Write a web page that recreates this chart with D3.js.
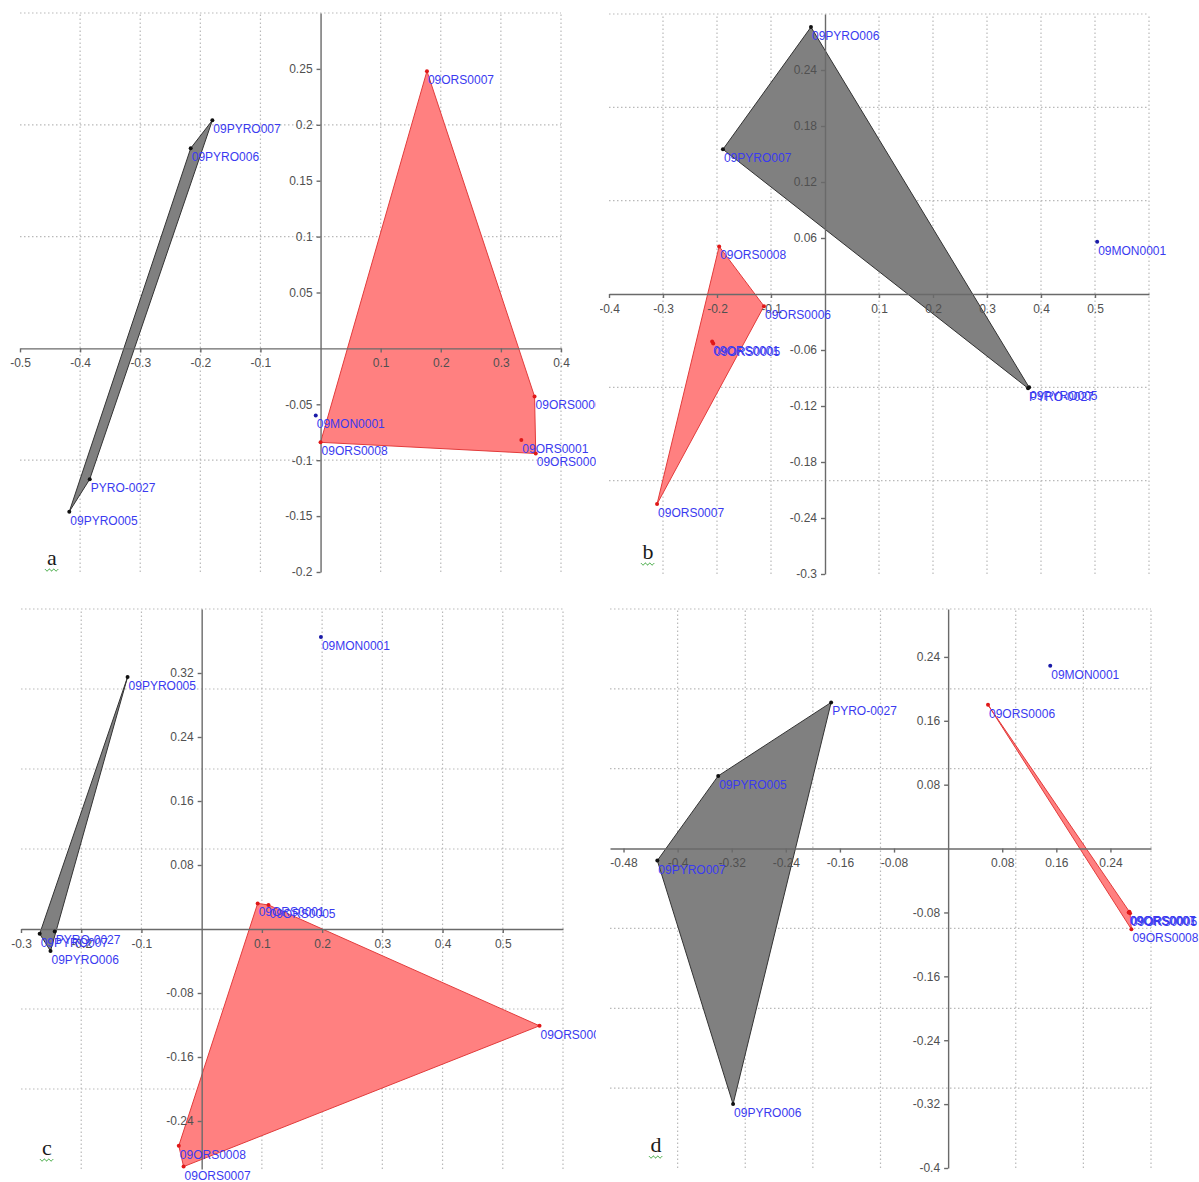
<!DOCTYPE html>
<html>
<head>
<meta charset="utf-8">
<script src="https://cdn.jsdelivr.net/npm/d3@7/dist/d3.min.js"></script>
<style>
  html, body { margin: 0; padding: 0; background: #fff; }
  svg { display: block; }
  .tick text { font-family: "Liberation Sans", Arial, sans-serif; font-size: 12px; fill: #505050; }
  .domain, .tick line { stroke: #6a6a6a; stroke-width: 1.4; }
</style>
</head>
<body>
<svg id="chart" width="1199" height="1182"></svg>
<script>
// Sample names shared by all four ordinations
const samples = ["09PYRO005", "09PYRO006", "09PYRO007", "PYRO-0027",
                 "09ORS0001", "09ORS0005", "09ORS0006", "09ORS0007", "09ORS0008",
                 "09MON0001"];

// Coordinates (axis 1, axis 2) for each panel, in the order of `samples`
const xA = [-0.418, -0.216, -0.180, -0.384, 0.334, 0.358, 0.356, 0.177, 0.000, -0.008];
const yA = [-0.146, 0.179, 0.204, -0.117, -0.082, -0.094, -0.043, 0.248, -0.084, -0.060];

const xB = [0.378, -0.026, -0.189, 0.376, -0.209, -0.207, -0.113, -0.311, -0.196, 0.504];
const yB = [-0.100, 0.286, 0.155, -0.101, -0.051, -0.053, -0.013, -0.225, 0.051, 0.056];

const xC = [-0.123, -0.251, -0.269, -0.244, 0.093, 0.111, 0.561, -0.030, -0.038, 0.198];
const yC = [0.315, -0.0275, -0.006, -0.003, 0.032, 0.030, -0.121, -0.297, -0.271, 0.365];

const xD = [-0.340, -0.318, -0.430, -0.173, 0.268, 0.269, 0.059, 0.267, 0.271, 0.151];
const yD = [0.091, -0.320, -0.015, 0.183, -0.079, -0.081, 0.180, -0.080, -0.101, 0.229];

// Axis extents
const xDomA = [-0.5, 0.4], yDomA = [-0.2, 0.3];
const xDomB = [-0.4, 0.6], yDomB = [-0.3, 0.3];
const xDomC = [-0.3, 0.6], yDomC = [-0.3, 0.4];
const xDomD = [-0.5, 0.3], yDomD = [-0.4, 0.3];

// Tick labels
const xTicksA = [-0.5, -0.4, -0.3, -0.2, -0.1, 0.1, 0.2, 0.3, 0.4];
const yTicksA = [-0.2, -0.15, -0.1, -0.05, 0.05, 0.1, 0.15, 0.2, 0.25];
const xTicksB = [-0.4, -0.3, -0.2, -0.1, 0.1, 0.2, 0.3, 0.4, 0.5];
const yTicksB = [-0.3, -0.24, -0.18, -0.12, -0.06, 0.06, 0.12, 0.18, 0.24];
const xTicksC = [-0.3, -0.2, -0.1, 0.1, 0.2, 0.3, 0.4, 0.5];
const yTicksC = [-0.24, -0.16, -0.08, 0.08, 0.16, 0.24, 0.32];
const xTicksD = [-0.48, -0.4, -0.32, -0.24, -0.16, -0.08, 0.08, 0.16, 0.24];
const yTicksD = [-0.4, -0.32, -0.24, -0.16, -0.08, 0.08, 0.16, 0.24];

// Dotted grid positions
const xGridA = [-0.4, -0.3, -0.2, -0.1, 0.1, 0.2, 0.3, 0.4];
const yGridA = [-0.1, 0.1, 0.2, 0.3];
const xGridB = [-0.3, -0.2, -0.1, 0.1, 0.2, 0.3, 0.4, 0.5, 0.6];
const yGridB = [-0.2, -0.1, 0.1, 0.2, 0.3];
const xGridC = [-0.2, -0.1, 0.1, 0.2, 0.3, 0.4, 0.5, 0.6];
const yGridC = [-0.2, -0.1, 0.1, 0.2, 0.3, 0.4];
const xGridD = [-0.4, -0.3, -0.2, -0.1, 0.1, 0.2, 0.3];
const yGridD = [-0.3, -0.2, -0.1, 0.1, 0.2, 0.3];

const panelLetters = ["a", "b", "c", "d"];

// Screen layout of each panel
const layout = [
  { xr: [20, 561],  yr: [572, 13],   clip: [0, 0, 596, 590],     letter: [52, 565] },
  { xr: [609, 1149], yr: [574, 14],  clip: [600, 0, 599, 590],   letter: [648, 559] },
  { xr: [21, 563],  yr: [1169, 609], clip: [0, 592, 596, 590],   letter: [47, 1155] },
  { xr: [610, 1151], yr: [1168, 609], clip: [600, 592, 599, 590], letter: [656, 1152] }
];

const panels = [
  { x: xA, y: yA, xd: xDomA, yd: yDomA, xt: xTicksA, yt: yTicksA, xg: xGridA, yg: yGridA },
  { x: xB, y: yB, xd: xDomB, yd: yDomB, xt: xTicksB, yt: yTicksB, xg: xGridB, yg: yGridB },
  { x: xC, y: yC, xd: xDomC, yd: yDomC, xt: xTicksC, yt: yTicksC, xg: xGridC, yg: yGridC },
  { x: xD, y: yD, xd: xDomD, yd: yDomD, xt: xTicksD, yt: yTicksD, xg: xGridD, yg: yGridD }
];

const groupOf = name => name.includes("PYRO") ? "pyro" : name.includes("ORS") ? "ors" : "mon";
const hullStyle = {
  pyro: { fill: "#808080", stroke: "#333333" },
  ors:  { fill: "#ff8080", stroke: "#e23b3b" }
};
const dotColor = { pyro: "#111111", ors: "#e01818", mon: "#1a1aa8" };
const fmt = v => String(+v.toFixed(2));

const svg = d3.select("#chart");
const defs = svg.append("defs");

panels.forEach((p, i) => {
  const L = layout[i];
  const xs = d3.scaleLinear().domain(p.xd).range(L.xr);
  const ys = d3.scaleLinear().domain(p.yd).range(L.yr);

  defs.append("clipPath").attr("id", "clip" + i)
    .append("rect").attr("x", L.clip[0]).attr("y", L.clip[1])
    .attr("width", L.clip[2]).attr("height", L.clip[3]);

  const g = svg.append("g").attr("clip-path", `url(#clip${i})`);

  // dotted grid
  const grid = g.append("g")
    .attr("stroke", "#b9b9b9").attr("stroke-width", 1.2)
    .attr("stroke-dasharray", "1.5,2.5");
  grid.selectAll("line.v").data(p.xg).join("line").attr("class", "v")
    .attr("x1", d => xs(d)).attr("x2", d => xs(d))
    .attr("y1", ys(p.yd[0])).attr("y2", ys(p.yd[1]));
  grid.selectAll("line.h").data(p.yg).join("line").attr("class", "h")
    .attr("y1", d => ys(d)).attr("y2", d => ys(d))
    .attr("x1", xs(p.xd[0])).attr("x2", xs(p.xd[1]));

  // points of this panel
  const pts = samples.map((name, k) => ({
    name, group: groupOf(name), px: xs(p.x[k]), py: ys(p.y[k])
  }));

  // convex hulls per group
  ["pyro", "ors"].forEach(grp => {
    const hull = d3.polygonHull(pts.filter(d => d.group === grp).map(d => [d.px, d.py]));
    if (hull) {
      g.append("path")
        .attr("d", "M" + hull.map(q => q.join(",")).join("L") + "Z")
        .attr("fill", hullStyle[grp].fill)
        .attr("stroke", hullStyle[grp].stroke)
        .attr("stroke-width", 1)
        .attr("stroke-linejoin", "round");
    }
  });

  // axes through the origin
  const xAxis = d3.axisBottom(xs).tickValues(p.xt).tickFormat(fmt)
    .tickSize(4).tickSizeOuter(0).tickPadding(6);
  const yAxis = d3.axisLeft(ys).tickValues(p.yt).tickFormat(fmt)
    .tickSize(4).tickSizeOuter(0).tickPadding(4);
  g.append("g").attr("transform", `translate(0,${ys(0)})`).call(xAxis);
  g.append("g").attr("transform", `translate(${xs(0)},0)`).call(yAxis);

  // sample markers and names
  g.selectAll("circle.pt").data(pts).join("circle").attr("class", "pt")
    .attr("cx", d => d.px).attr("cy", d => d.py).attr("r", 2)
    .attr("fill", d => dotColor[d.group]);
  g.selectAll("text.lbl").data(pts).join("text").attr("class", "lbl")
    .attr("x", d => d.px + 1).attr("y", d => d.py + 13)
    .attr("font-family", "'Liberation Sans', Arial, sans-serif")
    .attr("font-size", 12)
    .attr("fill", "#3a3af0")
    .text(d => d.name);

  // panel letter with a wavy underline
  const [lx, ly] = L.letter;
  svg.append("text").attr("x", lx).attr("y", ly)
    .attr("text-anchor", "middle")
    .attr("font-family", "'Liberation Serif', 'Times New Roman', serif")
    .attr("font-size", 22).attr("fill", "#1a1a1a")
    .text(panelLetters[i]);
  const wave = d3.range(0, 7).map(k => [lx - 7 + k * 2.2, ly + 4 + (k % 2 ? 2 : 0)]);
  svg.append("path").attr("d", d3.line().curve(d3.curveMonotoneX)(wave))
    .attr("fill", "none").attr("stroke", "#3aa63a").attr("stroke-width", 1);
});
</script>
</body>
</html>
